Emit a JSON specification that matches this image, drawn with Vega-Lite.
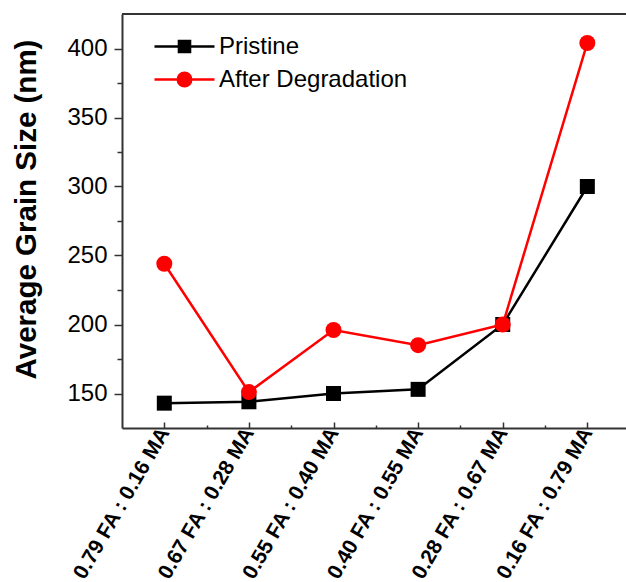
{
  "$schema": "https://vega.github.io/schema/vega-lite/v6.json",
  "autosize": {"type": "none"},
  "padding": {"left": 122, "top": 14, "right": 0, "bottom": 154},
  "width": 504,
  "height": 414,
  "background": "white",
  "config": {"view": {"stroke": null}, "font": "Liberation Sans"},
  "data": {
    "values": [
      {"idx": 1, "series": "Pristine", "grain": 143},
      {"idx": 2, "series": "Pristine", "grain": 144},
      {"idx": 3, "series": "Pristine", "grain": 150},
      {"idx": 4, "series": "Pristine", "grain": 153},
      {"idx": 5, "series": "Pristine", "grain": 200},
      {"idx": 6, "series": "Pristine", "grain": 300},
      {"idx": 1, "series": "After Degradation", "grain": 244},
      {"idx": 2, "series": "After Degradation", "grain": 151},
      {"idx": 3, "series": "After Degradation", "grain": 196},
      {"idx": 4, "series": "After Degradation", "grain": 185},
      {"idx": 5, "series": "After Degradation", "grain": 200},
      {"idx": 6, "series": "After Degradation", "grain": 404}
    ]
  },
  "layer": [
    {
      "mark": {"type": "rule", "color": "#333", "strokeWidth": 2},
      "encoding": {
        "y": {"datum": 425, "type": "quantitative", "scale": {"domain": [125, 425], "nice": false, "zero": false}}
      }
    },
    {
      "transform": [{"filter": "datum.series === 'Pristine'"}],
      "mark": {"type": "line", "strokeWidth": 2.5},
      "encoding": {
        "x": {
          "field": "idx", "type": "quantitative",
          "scale": {"domain": [0.5, 6.457], "nice": false, "zero": false},
          "axis": {
            "values": [1, 1.5, 2, 2.5, 3, 3.5, 4, 4.5, 5, 5.5, 6],
            "labelExpr": "datum.value % 1 === 0 ? ['0.79 FA : 0.16 MA','0.67 FA : 0.28 MA','0.55 FA : 0.40 MA','0.40 FA : 0.55 MA','0.28 FA : 0.67 MA','0.16 FA : 0.79 MA'][datum.value - 1] : ''",
            "labelAngle": 300,
            "labelFontSize": 21,
            "labelFontWeight": "bold",
            "labelColor": "black",
            "labelOverlap": false,
            "labelFlush": false,
            "labelBound": false,
            "labelLimit": 400,
            "labelPadding": 7,
            "tickSize": {"condition": {"test": "datum.value % 1 !== 0", "value": -3}, "value": -6},
            "tickColor": "#333",
            "tickWidth": 1.5,
            "domainColor": "#333",
            "domainWidth": 2,
            "grid": false,
            "title": null
          }
        },
        "y": {
          "field": "grain", "type": "quantitative",
          "scale": {"domain": [125, 425], "nice": false, "zero": false},
          "axis": {
            "values": [150, 175, 200, 225, 250, 275, 300, 325, 350, 375, 400],
            "labelExpr": "datum.value % 50 === 0 ? datum.label : ''",
            "tickSize": {"condition": {"test": "datum.value % 50 !== 0", "value": 5}, "value": 8},
            "tickColor": "#333",
            "tickWidth": 1.5,
            "domainColor": "#333",
            "domainWidth": 2,
            "labelFontSize": 24,
            "labelColor": "black",
            "labelPadding": 7,
            "grid": false,
            "title": "Average Grain Size (nm)",
            "titleFontSize": 29.5,
            "titleFontWeight": "bold",
            "titleColor": "black",
            "titleX": -96,
            "titleY": 195,
            "titleBaseline": "middle",
            "titleAlign": "center"
          }
        },
        "color": {
          "field": "series", "type": "nominal",
          "scale": {"domain": ["Pristine", "After Degradation"], "range": ["#000000", "#ff0000"]},
          "legend": {
            "orient": "none",
            "legendX": 46,
            "legendY": 16,
            "title": null,
            "padding": 0,
            "labelFontSize": 24,
            "labelColor": "black",
            "labelLimit": 400,
            "symbolSize": 900,
            "labelOffset": 18,
            "rowPadding": 4,
            "encode": {
              "symbols": {
                "update": {
                  "shape": {"signal": "datum.value === 'Pristine' ? 'M-2,0H2M-0.37,-0.37H0.37V0.37H-0.37Z' : 'M-2,0H2M0.45,0A0.45,0.45 0 1 1 -0.45,0A0.45,0.45 0 1 1 0.45,0Z'"},
                  "fill": {"signal": "datum.value === 'Pristine' ? '#000000' : '#ff0000'"},
                  "stroke": {"signal": "datum.value === 'Pristine' ? '#000000' : '#ff0000'"},
                  "strokeWidth": {"value": 2.5},
                  "opacity": {"value": 1},
                  "fillOpacity": {"value": 1}
                }
              }
            }
          }
        }
      }
    },
    {
      "transform": [{"filter": "datum.series === 'Pristine'"}],
      "mark": {"type": "point", "shape": "square", "filled": true, "size": 225, "opacity": 1, "color": "#000000"},
      "encoding": {
        "x": {"field": "idx", "type": "quantitative"},
        "y": {"field": "grain", "type": "quantitative"}
      }
    },
    {
      "transform": [{"filter": "datum.series === 'After Degradation'"}],
      "mark": {"type": "line", "strokeWidth": 2.5},
      "encoding": {
        "x": {"field": "idx", "type": "quantitative"},
        "y": {"field": "grain", "type": "quantitative"},
        "color": {"field": "series", "type": "nominal"}
      }
    },
    {
      "transform": [{"filter": "datum.series === 'After Degradation'"}],
      "mark": {"type": "point", "shape": "circle", "filled": true, "size": 256, "opacity": 1, "color": "#ff0000"},
      "encoding": {
        "x": {"field": "idx", "type": "quantitative"},
        "y": {"field": "grain", "type": "quantitative"}
      }
    }
  ]
}
